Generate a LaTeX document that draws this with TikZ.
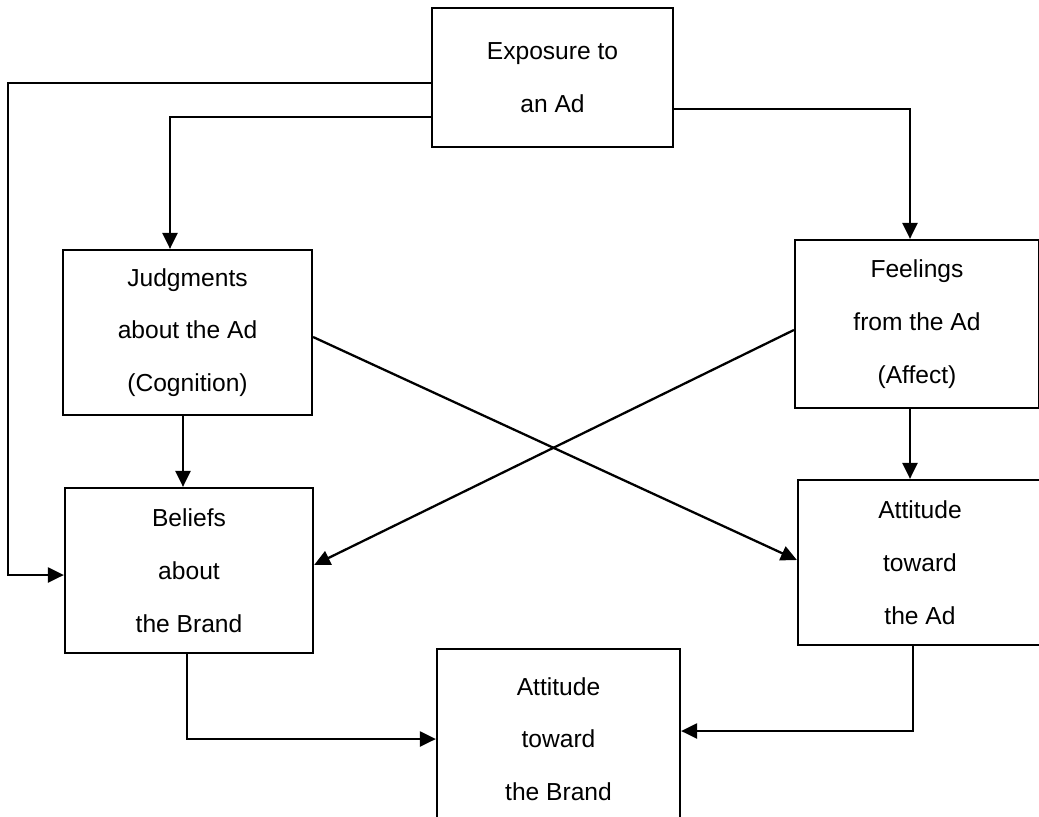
\documentclass[tikz,border=0pt]{standalone}
\usepackage{fontspec}
\setmainfont{Liberation Sans}
\usepackage{tikz}
\usetikzlibrary{calc,arrows.meta}

\begin{document}
\begin{tikzpicture}[x=0.02cm, y=-0.02cm,
    box/.style={draw, line width=1.3pt, align=center, inner sep=0pt,
      font=\fontsize{14}{30}\selectfont},
    arr/.style={line width=1.3pt, -{Triangle[length=0.32cm, width=0.3cm]}}]
      \clip (0, 0) rectangle (1039, 816);
      \fill[white] (0, 0) rectangle (1039, 816);
      \node[box, minimum width=4.82cm, minimum height=2.78cm] (expo) at (552.5, 77.5) {Exposure to\\an Ad};
      \node[box, minimum width=4.98cm, minimum height=3.3cm] (judg) at (187.5, 332.5) {Judgments\\about the Ad\\(Cognition)};
      \node[box, minimum width=4.88cm, minimum height=3.36cm] (feel) at (917, 324) {Feelings\\from the Ad\\(Affect)};
      \node[box, minimum width=4.96cm, minimum height=3.3cm] (belief) at (189, 570.5) {Beliefs\\about\\the Brand};
      \node[box, minimum width=4.88cm, minimum height=3.3cm] (attad) at (920, 562.5) {Attitude\\toward\\the Ad};
      \node[box, minimum width=4.86cm, minimum height=3.6cm] (attbr) at (558.5, 739) {Attitude\\toward\\the Brand};
      % lines out of the exposure box
      \draw[arr] ($(expo.west) + (0, 5.5)$) -- ++(-423, 0) |- ($(belief.west) + (0, 4.5)$);
      \draw[arr] ($(expo.west) + (0, 39.5)$) -| ($(judg.north) + (-17.5, 0)$);
      \draw[arr] ($(expo.east) + (0, 31.5)$) -| ($(feel.north) + (-7, 0)$);
      % straight down
      \draw[arr] ($(judg.south) + (-4.5, 0)$) coordinate (j) -- (j |- belief.north);
      \draw[arr] ($(feel.south) + (-7, 0)$) coordinate (f) -- (f |- attad.north);
      % the cross
      \draw[arr] ($(judg.east) + (0, 4.5)$) -- ($(attad.west) + (0, -2.5)$);
      \draw[arr] ($(feel.west) + (0, 6)$) -- ($(belief.east) + (0, -5.5)$);
      % into the brand attitude
      \draw[arr] ($(belief.south) + (-2, 0)$) |- (attbr.west);
      \draw[arr] ($(attad.south) + (-7, 0)$) |- ($(attbr.east) + (0, -8)$);
    \end{tikzpicture}
\end{document}
